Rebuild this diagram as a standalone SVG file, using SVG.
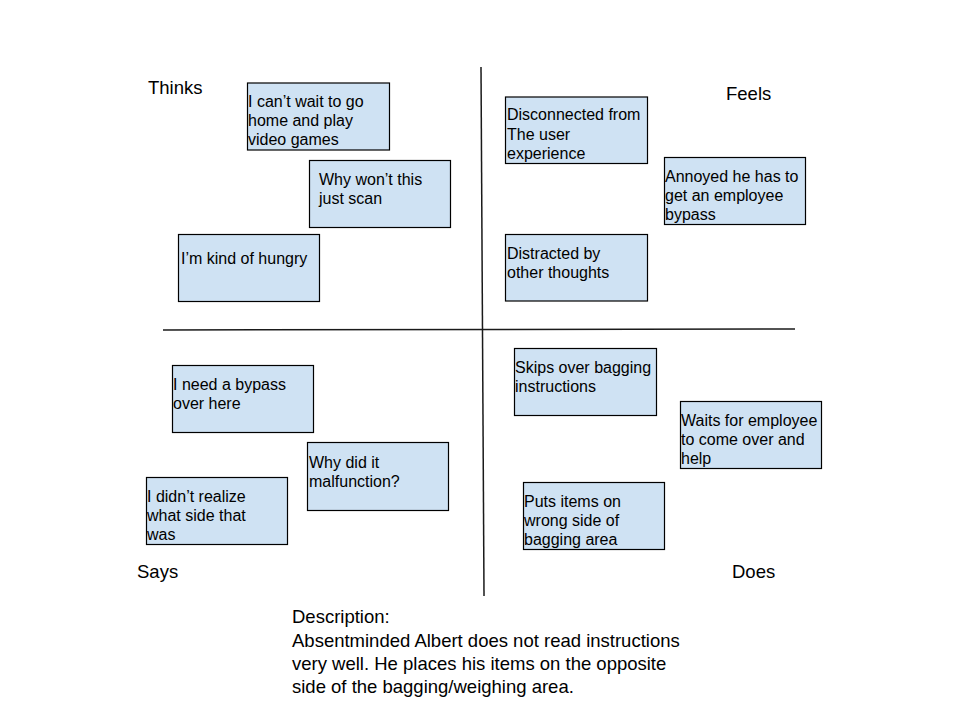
<svg xmlns="http://www.w3.org/2000/svg" width="960" height="720" viewBox="0 0 960 720">
<style>
.bg{fill:#ffffff}
.box{fill:#cfe2f3;stroke:#000000;stroke-width:1.2}
.t{font-family:"Liberation Sans",Arial,sans-serif;font-size:16px;fill:#000000}
.lbl{font-family:"Liberation Sans",Arial,sans-serif;font-size:18.5px;fill:#000000}
.axis{stroke:#1a1a1a;stroke-width:1.5;fill:none}
</style>
<rect class="bg" x="0" y="0" width="960" height="720"/>
<g id="connectors">
<line class="axis" x1="481" y1="67" x2="484" y2="596"/>
<line class="axis" x1="163" y1="330" x2="795" y2="329"/>
</g>
<g id="label-thinks"><text class="lbl" x="148" y="94">Thinks</text></g>
<g id="label-feels"><text class="lbl" x="726" y="100">Feels</text></g>
<g id="label-says"><text class="lbl" x="137" y="578">Says</text></g>
<g id="label-does"><text class="lbl" x="732" y="578">Does</text></g>
<g id="n-cant-wait">
<rect class="box" x="247.5" y="83" width="142" height="67"/>
<text class="t"><tspan x="248" y="107">I can’t wait to go</tspan><tspan x="248" y="126">home and play</tspan><tspan x="248" y="145">video games</tspan></text>
</g>
<g id="n-why-wont">
<rect class="box" x="309.5" y="160.5" width="141" height="67"/>
<text class="t"><tspan x="319" y="185">Why won’t this</tspan><tspan x="319" y="204">just scan</tspan></text>
</g>
<g id="n-hungry">
<rect class="box" x="178.5" y="234.5" width="141" height="67"/>
<text class="t"><tspan x="181" y="264">I’m kind of hungry</tspan></text>
</g>
<g id="n-disconnected">
<rect class="box" x="505.5" y="97" width="142" height="66.5"/>
<text class="t"><tspan x="507" y="120">Disconnected from</tspan><tspan x="507" y="139.5">The user</tspan><tspan x="507" y="159">experience</tspan></text>
</g>
<g id="n-annoyed">
<rect class="box" x="664.5" y="157.5" width="141" height="67"/>
<text class="t"><tspan x="665" y="182">Annoyed he has to</tspan><tspan x="665" y="201">get an employee</tspan><tspan x="665" y="220">bypass</tspan></text>
</g>
<g id="n-distracted">
<rect class="box" x="505.5" y="234.5" width="142" height="66.5"/>
<text class="t"><tspan x="507" y="259">Distracted by</tspan><tspan x="507" y="278">other thoughts</tspan></text>
</g>
<g id="n-need-bypass">
<rect class="box" x="172.5" y="365.5" width="141" height="67"/>
<text class="t"><tspan x="173" y="390">I need a bypass</tspan><tspan x="173" y="409">over here</tspan></text>
</g>
<g id="n-why-did">
<rect class="box" x="307.5" y="442.5" width="141" height="68"/>
<text class="t"><tspan x="309" y="467.5">Why did it</tspan><tspan x="309" y="486.5">malfunction?</tspan></text>
</g>
<g id="n-didnt-realize">
<rect class="box" x="146.5" y="477.5" width="141" height="67"/>
<text class="t"><tspan x="147" y="501.5">I didn’t realize</tspan><tspan x="147" y="520.5">what side that</tspan><tspan x="147" y="539.5">was</tspan></text>
</g>
<g id="n-skips">
<rect class="box" x="514.5" y="348.5" width="142" height="67"/>
<text class="t"><tspan x="515" y="373">Skips over bagging</tspan><tspan x="515" y="392">instructions</tspan></text>
</g>
<g id="n-waits">
<rect class="box" x="680.5" y="401.5" width="141" height="67"/>
<text class="t"><tspan x="681" y="426">Waits for employee</tspan><tspan x="681" y="445">to come over and</tspan><tspan x="681" y="464">help</tspan></text>
</g>
<g id="n-puts">
<rect class="box" x="523.5" y="482.5" width="141" height="67"/>
<text class="t"><tspan x="524" y="506.5">Puts items on</tspan><tspan x="524" y="525.5">wrong side of</tspan><tspan x="524" y="544.5">bagging area</tspan></text>
</g>
<g id="description">
<text class="lbl"><tspan x="292" y="623">Description:</tspan><tspan x="292" y="646.5">Absentminded Albert does not read instructions</tspan><tspan x="292" y="670">very well. He places his items on the opposite</tspan><tspan x="292" y="693">side of the bagging/weighing area.</tspan></text>
</g>
</svg>
